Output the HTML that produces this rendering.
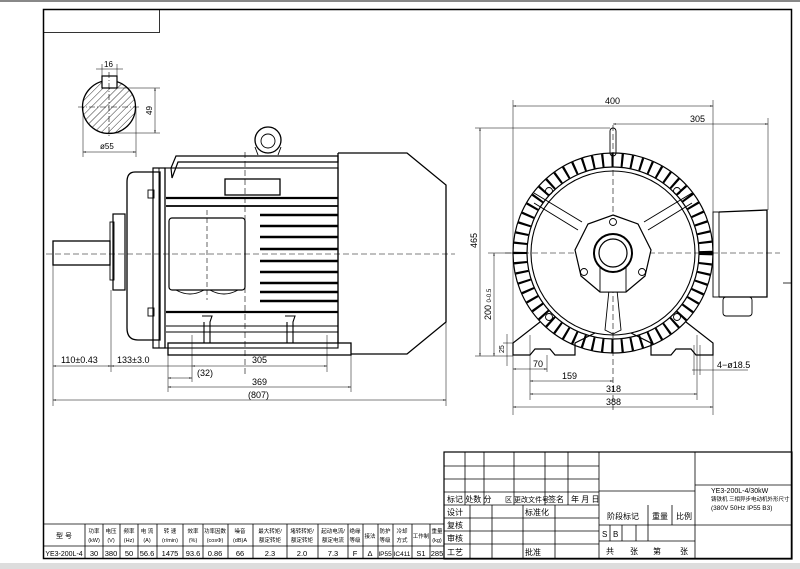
<!DOCTYPE html>
<html><head><meta charset="utf-8"><style>
html,body{margin:0;padding:0;background:#fff;}
svg{display:block;}
text{font-family:"Liberation Sans","Noto Sans CJK SC",sans-serif;fill:#000;}
.c{font-family:"Liberation Serif","Noto Serif CJK SC","Noto Sans CJK SC",serif;}
</style></head><body>
<svg width="800" height="569" viewBox="0 0 800 569" xmlns="http://www.w3.org/2000/svg">
<defs>
<pattern id="h" width="5" height="5" patternUnits="userSpaceOnUse" patternTransform="rotate(45)">
<line x1="0" y1="0" x2="0" y2="5" stroke="#000" stroke-width="0.8"/></pattern>
<marker id="a" viewBox="0 0 10 10" refX="10" refY="5" markerWidth="6" markerHeight="6" orient="auto-start-reverse"><path d="M0,3 L10,5 L0,7 z" fill="#000"/></marker>
</defs>
<rect x="0" y="0" width="800" height="2" fill="#888"/>
<rect x="0" y="563" width="800" height="6" fill="#ddd"/>
<rect x="43.5" y="9.5" width="748" height="549" fill="none" stroke="#000" stroke-width="1.5"/>
<rect x="43.5" y="9.5" width="116" height="23" fill="none" stroke="#000" stroke-width="0.8"/>
<line x1="783" y1="283" x2="791" y2="283" stroke="#000" stroke-width="0.8"/>

<g stroke="#000" fill="none" stroke-width="0.9">
<circle cx="109" cy="107" r="26.5" fill="url(#h)" stroke-width="1.3"/>
<rect x="102" y="76" width="15" height="12" fill="#fff" stroke-width="1.2"/>
<line x1="78" y1="107" x2="140" y2="107" stroke-dasharray="6 2 1 2" stroke-width="0.6"/>
<line x1="109" y1="72" x2="109" y2="138" stroke-dasharray="6 2 1 2" stroke-width="0.6"/>
<line x1="102" y1="64" x2="102" y2="76" stroke-width="0.5"/><line x1="117" y1="64" x2="117" y2="76" stroke-width="0.5"/>
<line x1="96" y1="69" x2="123" y2="69" stroke-width="0.5"/>
<line x1="117" y1="88" x2="160" y2="88" stroke-width="0.5"/><line x1="109" y1="133" x2="160" y2="133" stroke-width="0.5"/>
<line x1="155" y1="88" x2="155" y2="133" stroke-width="0.5" marker-start="url(#a)" marker-end="url(#a)"/>
<line x1="83" y1="107" x2="83" y2="157" stroke-width="0.5"/><line x1="136" y1="107" x2="136" y2="157" stroke-width="0.5"/>
<line x1="83" y1="152" x2="136" y2="152" stroke-width="0.5" marker-start="url(#a)" marker-end="url(#a)"/>

<circle cx="268" cy="140" r="13" stroke-width="1.3"/><circle cx="268" cy="141" r="7"/>
<path d="M255,147 L258,155 M281,147 L278,155" />
<path d="M171,168 L176,156 L338,156 L338,162 L178,162 L172,178 Z" stroke-width="1.2"/>
<path d="M338,153 L407,153 L446,185 L446,322 L407,354 L351,354" stroke-width="1.3"/>
<line x1="338" y1="153" x2="338" y2="343" stroke-width="1.3"/>
<path d="M160,172 L135,172 Q127,172 127,182 L127,328 Q127,340 138,340 L160,340 Z" stroke-width="1.3"/>
<rect x="153" y="168" width="12" height="180" stroke-width="1.2"/>
<line x1="159" y1="168" x2="159" y2="348"/>
<rect x="165" y="168" width="173" height="180" stroke-width="1.1"/>
<rect x="225" y="179" width="55" height="16" stroke-width="1.3"/>
<line x1="166" y1="198" x2="338" y2="198" stroke-width="2.2"/>
<line x1="166" y1="206" x2="338" y2="206" stroke-width="1.8"/>
<line x1="166" y1="312" x2="338" y2="312" stroke-width="2.2"/>
<line x1="166" y1="326" x2="338" y2="326"/>
<line x1="166" y1="332" x2="338" y2="332"/>
<g stroke-width="2.4">
<line x1="260" y1="215" x2="338" y2="215"/><line x1="260" y1="226" x2="338" y2="226"/><line x1="260" y1="237" x2="338" y2="237"/>
<line x1="260" y1="249" x2="338" y2="249"/><line x1="260" y1="261" x2="338" y2="261"/><line x1="260" y1="272" x2="338" y2="272"/>
<line x1="260" y1="283" x2="338" y2="283"/><line x1="260" y1="292" x2="338" y2="292"/><line x1="260" y1="301" x2="338" y2="301"/>
</g>
<rect x="169" y="218" width="76" height="72" rx="3" stroke-width="1.2"/>
<path d="M176,290 Q190,298 204,290 M210,290 Q224,298 238,290"/>
<path d="M202,316 L212,316 L210,322 L210,343 M204,322 L204,343 M285,316 L295,316 L293,322 L293,343 M287,322 L287,343" stroke-width="1.1"/>
<rect x="168" y="343" width="183" height="12" stroke-width="1.3"/>
<rect x="113" y="214" width="12" height="76" stroke-width="1.2"/>
<rect x="110" y="222" width="4" height="58"/>
<rect x="53" y="241" width="57" height="24" stroke-width="1.3"/>
<rect x="148" y="190" width="6" height="8"/><rect x="148" y="308" width="6" height="8"/>
<line x1="46" y1="254" x2="455" y2="254" stroke-dasharray="6 3" stroke-width="0.6"/>
<line x1="245" y1="152" x2="245" y2="375" stroke-dasharray="6 3" stroke-width="0.6"/>
<line x1="207" y1="210" x2="207" y2="300" stroke-dasharray="5 3" stroke-width="0.6"/>
<line x1="192" y1="335" x2="192" y2="382" stroke-width="0.5"/><line x1="327" y1="335" x2="327" y2="372" stroke-width="0.5"/>
<line x1="53" y1="265" x2="53" y2="406" stroke-width="0.5"/><line x1="111" y1="290" x2="111" y2="372" stroke-width="0.5"/>
<line x1="168" y1="355" x2="168" y2="392" stroke-width="0.5"/><line x1="351" y1="355" x2="351" y2="392" stroke-width="0.5"/>
<line x1="446" y1="322" x2="446" y2="406" stroke-width="0.5"/>
<line x1="53" y1="366" x2="111" y2="366" stroke-width="0.5" marker-start="url(#a)" marker-end="url(#a)"/>
<line x1="111" y1="366" x2="192" y2="366" stroke-width="0.5" marker-start="url(#a)"/>
<line x1="192" y1="366" x2="327" y2="366" stroke-width="0.5" marker-start="url(#a)" marker-end="url(#a)"/>
<line x1="168" y1="378" x2="192" y2="378" stroke-width="0.5" marker-start="url(#a)" marker-end="url(#a)"/>
<line x1="168" y1="387" x2="351" y2="387" stroke-width="0.5" marker-start="url(#a)" marker-end="url(#a)"/>
<line x1="53" y1="400" x2="446" y2="400" stroke-width="0.5" marker-start="url(#a)" marker-end="url(#a)"/>

<!-- front view -->
<line x1="505" y1="253" x2="780" y2="253" stroke-dasharray="6 3" stroke-width="0.6"/>
<line x1="613" y1="125" x2="613" y2="410" stroke-dasharray="6 3" stroke-width="0.6"/>
<rect x="610" y="128" width="6" height="28" rx="3"/>
<circle cx="613" cy="253" r="93" stroke-width="13" stroke-dasharray="2.2 7.5"/>
<circle cx="613" cy="253" r="100" stroke-width="1.2"/>
<circle cx="613" cy="253" r="86" stroke-width="1.2"/>
<circle cx="613" cy="253" r="82" stroke-width="1.1"/>
<path d="M534,193 L582,222 M534,203 L578,230 M692,193 L644,222 M692,203 L648,230" stroke-width="1"/>
<path d="M609,290 L605,330 L613,334 L621,330 L617,290"/>
<path d="M613,215 L638,224 L651,250 L645,276 L626,292 L600,292 L581,276 L575,250 L588,224 Z" stroke-width="1.2" fill="#fff"/>
<rect x="600" y="265" width="26" height="27" fill="#fff"/>
<circle cx="613" cy="253" r="19" stroke-width="2" fill="#fff"/><circle cx="613" cy="253" r="14" stroke-width="1.2"/>
<circle cx="613" cy="222" r="3.5"/><circle cx="584" cy="272" r="3.5"/><circle cx="642" cy="272" r="3.5"/>
<circle cx="549" cy="191" r="3.5"/><circle cx="677" cy="191" r="3.5"/><circle cx="549" cy="317" r="3.5"/><circle cx="677" cy="317" r="3.5"/>
<path d="M540,322 L513,343 L513,355 L530,355 L535,349 L550,349 L555,355 L575,355 L575,343 L595,333" stroke-width="1.2"/>
<path d="M686,322 L713,343 L713,355 L696,355 L691,349 L676,349 L671,355 L651,355 L651,343 L631,333" stroke-width="1.2"/>
<rect x="713" y="212" width="6" height="85"/>
<path d="M719,212 L767,210 L767,297 L719,297" stroke-width="1.3"/>
<rect x="723" y="297" width="29" height="19" rx="3"/>
<line x1="513" y1="100" x2="513" y2="415" stroke-width="0.5"/><line x1="713" y1="100" x2="713" y2="212" stroke-width="0.5"/>
<line x1="713" y1="355" x2="713" y2="415" stroke-width="0.5"/>
<line x1="513" y1="106" x2="713" y2="106" stroke-width="0.5" marker-start="url(#a)" marker-end="url(#a)"/>
<line x1="613" y1="124" x2="768" y2="124" stroke-width="0.5" marker-start="url(#a)" marker-end="url(#a)"/>
<line x1="768" y1="118" x2="768" y2="210" stroke-width="0.5"/>
<line x1="475" y1="128" x2="610" y2="128" stroke-width="0.5"/>
<line x1="480" y1="128" x2="480" y2="356" stroke-width="0.5" marker-start="url(#a)" marker-end="url(#a)"/>
<line x1="488" y1="253" x2="513" y2="253" stroke-width="0.5"/>
<line x1="494" y1="253" x2="494" y2="356" stroke-width="0.5" marker-start="url(#a)" marker-end="url(#a)"/>
<line x1="475" y1="356" x2="513" y2="356" stroke-width="0.5"/>
<line x1="503" y1="343" x2="513" y2="343" stroke-width="0.5"/>
<line x1="507" y1="334" x2="507" y2="366" stroke-width="0.5"/>
<line x1="530" y1="335" x2="530" y2="400" stroke-width="0.5"/><line x1="697" y1="335" x2="697" y2="400" stroke-width="0.5"/>
<line x1="547" y1="355" x2="547" y2="372" stroke-width="0.5"/>
<line x1="513" y1="369" x2="547" y2="369" stroke-width="0.5" marker-start="url(#a)" marker-end="url(#a)"/>
<line x1="530" y1="381" x2="613" y2="381" stroke-width="0.5" marker-start="url(#a)" marker-end="url(#a)"/>
<line x1="530" y1="394" x2="697" y2="394" stroke-width="0.5" marker-start="url(#a)" marker-end="url(#a)"/>
<line x1="513" y1="407" x2="713" y2="407" stroke-width="0.5" marker-start="url(#a)" marker-end="url(#a)"/>
<line x1="692" y1="370" x2="748" y2="370" stroke-width="0.5"/>
<line x1="694" y1="345" x2="694" y2="375" stroke-width="0.5"/><line x1="700" y1="345" x2="700" y2="375" stroke-width="0.5"/>
</g>

<g font-size="9">
<text x="104" y="67" font-size="8">16</text>
<text x="152" y="115" font-size="8" transform="rotate(-90 152 115)">49</text>
<text x="100" y="149" font-size="8">ø55</text>
<text x="61" y="363">110±0.43</text>
<text x="117" y="363">133±3.0</text>
<text x="252" y="363">305</text>
<text x="197" y="376">(32)</text>
<text x="252" y="385">369</text>
<text x="248" y="398">(807)</text>
<text x="605" y="104">400</text>
<text x="690" y="122">305</text>
<text x="477" y="248" transform="rotate(-90 477 248)">465</text>
<text x="491" y="320" transform="rotate(-90 491 320)">200 <tspan font-size="6">0</tspan><tspan font-size="6">-0.5</tspan></text>
<text x="504" y="353" font-size="7" transform="rotate(-90 504 353)">25</text>
<text x="533" y="367">70</text>
<text x="562" y="379">159</text>
<text x="606" y="392">318</text>
<text x="606" y="405">388</text>
<text x="717" y="368">4−ø18.5</text>
</g>

<g stroke="#000" stroke-width="0.8" fill="none">
<rect x="444" y="452" width="348" height="107" stroke-width="1.2"/>
<line x1="599" y1="452" x2="599" y2="559"/><line x1="695" y1="452" x2="695" y2="559"/>
<line x1="444" y1="466" x2="599" y2="466"/><line x1="444" y1="479" x2="599" y2="479"/>
<line x1="444" y1="492" x2="599" y2="492"/><line x1="444" y1="505" x2="599" y2="505"/>
<line x1="444" y1="518" x2="599" y2="518"/><line x1="444" y1="531" x2="599" y2="531"/><line x1="444" y1="544" x2="599" y2="544"/>
<line x1="465" y1="452" x2="465" y2="505"/><line x1="484" y1="452" x2="484" y2="505"/><line x1="514" y1="452" x2="514" y2="505"/>
<line x1="545" y1="452" x2="545" y2="505"/><line x1="568" y1="452" x2="568" y2="505"/>
<line x1="470" y1="505" x2="470" y2="559"/><line x1="492" y1="505" x2="492" y2="559"/><line x1="523" y1="505" x2="523" y2="559"/><line x1="555" y1="505" x2="555" y2="559"/>
<line x1="599" y1="491" x2="695" y2="491"/><line x1="599" y1="525" x2="695" y2="525"/><line x1="599" y1="541" x2="695" y2="541"/>
<line x1="648" y1="505" x2="648" y2="541"/><line x1="672" y1="505" x2="672" y2="525"/>
<line x1="610" y1="525" x2="610" y2="541"/><line x1="622" y1="525" x2="622" y2="541"/><line x1="636" y1="525" x2="636" y2="541"/>
<line x1="695" y1="485" x2="792" y2="485"/><line x1="695" y1="525" x2="792" y2="525"/>
<line x1="43" y1="524" x2="444" y2="524"/><line x1="43" y1="546" x2="444" y2="546"/>
<line x1="85" y1="524" x2="85" y2="559"/><line x1="103" y1="524" x2="103" y2="559"/><line x1="120" y1="524" x2="120" y2="559"/>
<line x1="138" y1="524" x2="138" y2="559"/><line x1="157" y1="524" x2="157" y2="559"/><line x1="183" y1="524" x2="183" y2="559"/>
<line x1="203" y1="524" x2="203" y2="559"/><line x1="228" y1="524" x2="228" y2="559"/><line x1="253" y1="524" x2="253" y2="559"/>
<line x1="287" y1="524" x2="287" y2="559"/><line x1="318" y1="524" x2="318" y2="559"/><line x1="348" y1="524" x2="348" y2="559"/>
<line x1="363" y1="524" x2="363" y2="559"/><line x1="378" y1="524" x2="378" y2="559"/><line x1="393" y1="524" x2="393" y2="559"/>
<line x1="412" y1="524" x2="412" y2="559"/><line x1="430" y1="524" x2="430" y2="559"/>
</g>
<g class="c" font-size="8">
<text x="447" y="502">标记 处数 分</text><text x="505" y="502" font-size="7">区 更改文件号</text><text x="548" y="502">签名</text><text x="571" y="502">年 月 日</text>
<text x="447" y="515">设计</text><text x="525" y="515">标准化</text>
<text x="447" y="528">复核</text><text x="447" y="541">审核</text><text x="447" y="555">工艺</text><text x="525" y="555">批准</text>
<text x="607" y="519">阶段标记</text><text x="652" y="519">重量</text><text x="676" y="519">比例</text>
<text x="602" y="537">S</text><text x="613" y="537">B</text>
<text x="606" y="554">共</text><text x="630" y="554">张</text><text x="653" y="554">第</text><text x="680" y="554">张</text>
<text x="711" y="493" font-size="7">YE3-200L-4/30kW</text>
<text x="711" y="501" font-size="5.5">铸铁机 三相异步电动机外形尺寸</text>
<text x="711" y="510" font-size="6.5">(380V 50Hz IP55 B3)</text>
</g>
<g class="c" font-size="5.5" text-anchor="middle">
<text x="64" y="538" font-size="7">型 号</text>
<text x="94" y="533">功率</text><text x="94" y="542">(kW)</text>
<text x="111" y="533">电压</text><text x="111" y="542">(V)</text>
<text x="129" y="533">频率</text><text x="129" y="542">(Hz)</text>
<text x="147" y="533">电 流</text><text x="147" y="542">(A)</text>
<text x="170" y="533">转 速</text><text x="170" y="542">(r/min)</text>
<text x="193" y="533">效率</text><text x="193" y="542">(%)</text>
<text x="215" y="533">功率因数</text><text x="215" y="542">(cosΦ)</text>
<text x="240" y="533">噪音</text><text x="240" y="542">(dB)A</text>
<text x="270" y="533">最大转矩/</text><text x="270" y="542">额定转矩</text>
<text x="302" y="533">堵转转矩/</text><text x="302" y="542">额定转矩</text>
<text x="333" y="533">起动电流/</text><text x="333" y="542">额定电流</text>
<text x="355" y="533">绝缘</text><text x="355" y="542">等级</text>
<text x="370" y="538">接法</text>
<text x="385" y="533">防护</text><text x="385" y="542">等级</text>
<text x="402" y="533">冷却</text><text x="402" y="542">方式</text>
<text x="421" y="538">工作制</text>
<text x="437" y="533">重量</text><text x="437" y="542">(kg)</text>
<g font-size="7.5">
<text x="64" y="556" font-size="7">YE3-200L-4</text><text x="94" y="556">30</text><text x="111" y="556">380</text><text x="129" y="556">50</text>
<text x="147" y="556">56.6</text><text x="170" y="556">1475</text><text x="193" y="556">93.6</text><text x="215" y="556">0.86</text>
<text x="240" y="556">66</text><text x="270" y="556">2.3</text><text x="302" y="556">2.0</text><text x="333" y="556">7.3</text>
<text x="355" y="556">F</text><text x="370" y="556">Δ</text><text x="385" y="556" font-size="6.5">IP55</text><text x="402" y="556" font-size="6.5">IC411</text>
<text x="421" y="556">S1</text><text x="437" y="556">285</text>
</g>
</g>
</svg>
</body></html>
